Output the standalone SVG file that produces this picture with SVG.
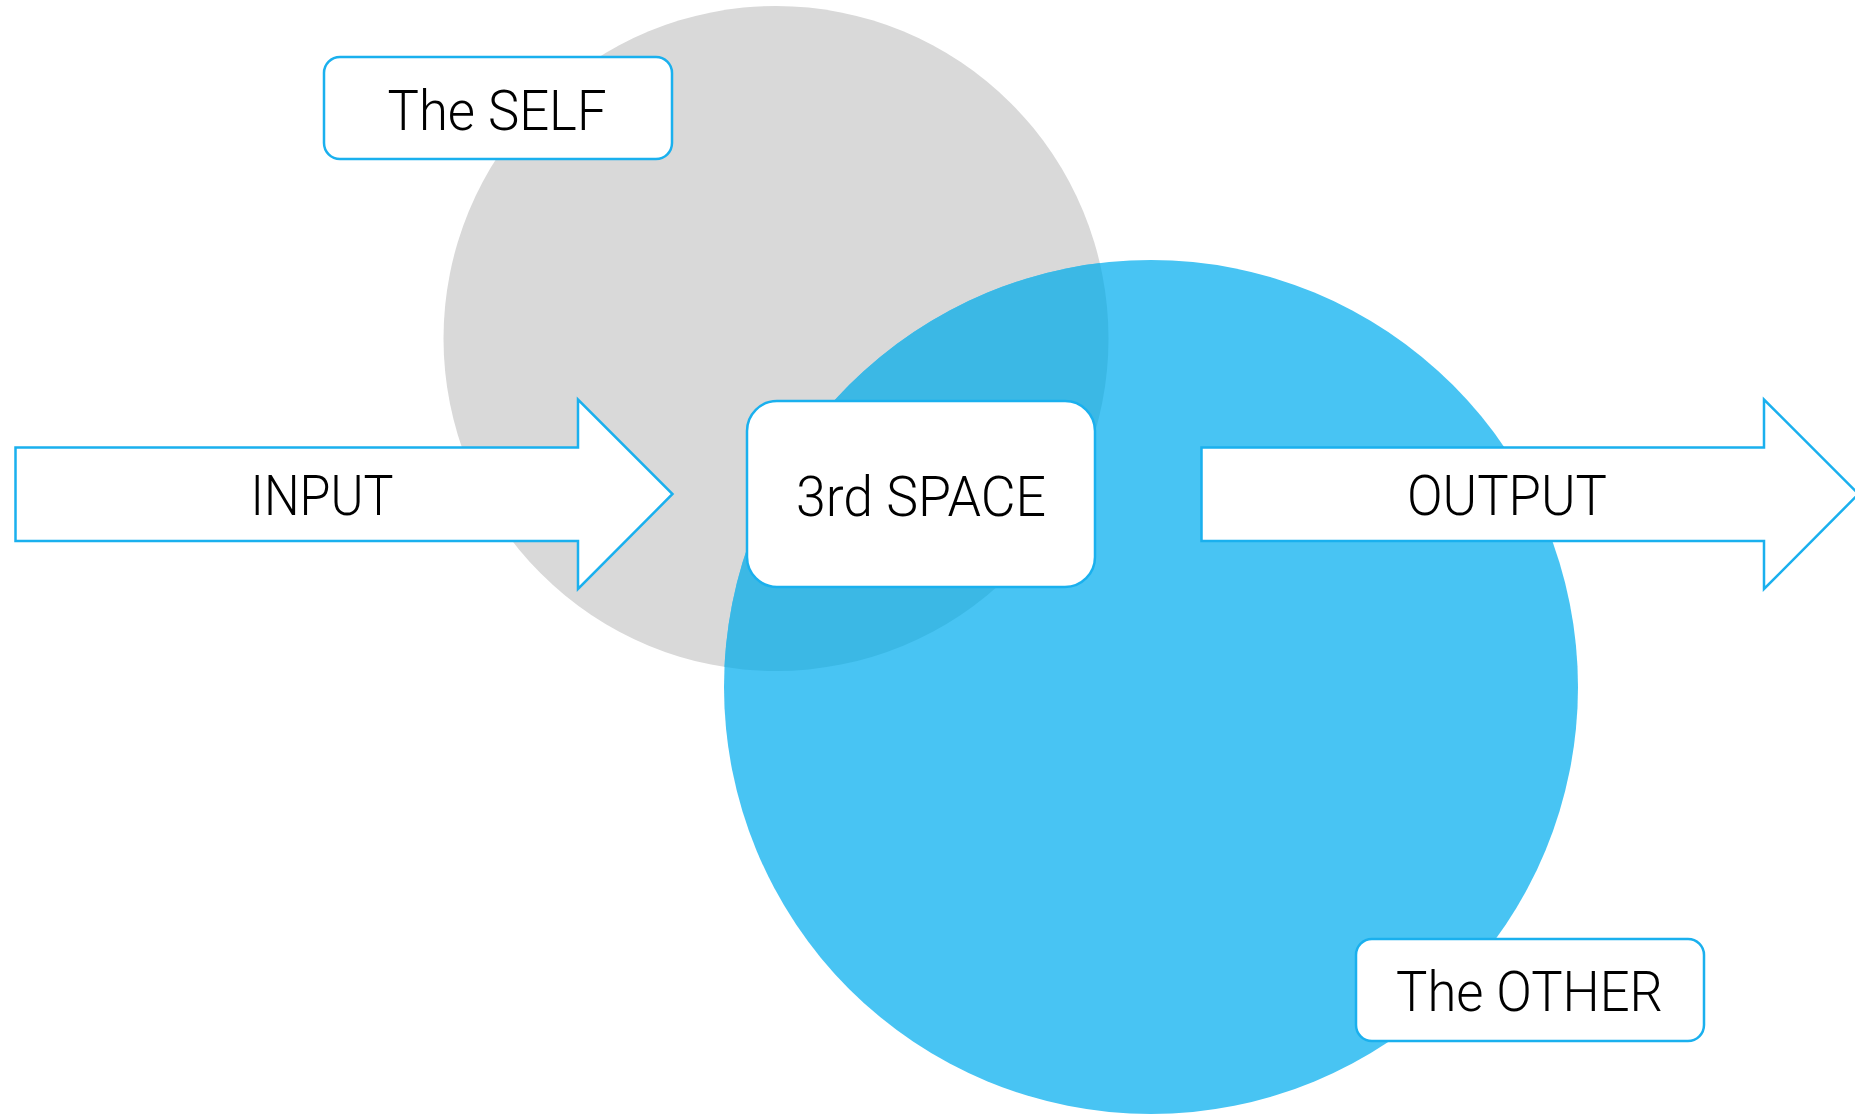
<svg xmlns="http://www.w3.org/2000/svg" width="1855" height="1115" viewBox="0 0 1855 1115">
  <style>
    .box { fill: #ffffff; stroke: #1AB0EE; stroke-width: 2.5; }
    .arrow { fill: #ffffff; stroke: #1AB0EE; stroke-width: 2.5; stroke-linejoin: miter; }
    .label { font-family: Roboto, "Liberation Sans", Arial, sans-serif; font-weight: 300; font-size: 56px; fill: #000000; text-anchor: middle; }
  </style>
  <defs>
    <clipPath id="selfClip">
      <circle cx="776" cy="338.5" r="332.5"/>
    </clipPath>
  </defs>
  <rect width="1855" height="1115" fill="#ffffff"/>
  <g id="circles">
    <circle id="self-circle" cx="776" cy="338.5" r="332.5" fill="#D9D9D9"/>
    <circle id="other-circle" cx="1151" cy="687" r="427" fill="#48C4F3"/>
    <circle id="overlap" cx="1151" cy="687" r="427" fill="#3BB8E5" clip-path="url(#selfClip)"/>
  </g>
  <g id="connectors">
    <g id="input-arrow">
      <path class="arrow" d="M15.5,447.5 H578 V399.5 L672.5,494 L578,589 V541 H15.5 Z"/>
      <text class="label" x="322" y="515" textLength="143" lengthAdjust="spacingAndGlyphs">INPUT</text>
    </g>
    <g id="output-arrow">
      <path class="arrow" d="M1201.5,447.5 H1764 V399.5 L1858.5,494 L1764,589 V541 H1201.5 Z"/>
      <text class="label" x="1507" y="515" textLength="200" lengthAdjust="spacingAndGlyphs">OUTPUT</text>
    </g>
  </g>
  <g id="node-self">
    <rect class="box" x="324" y="57" width="348" height="102" rx="16" ry="16"/>
    <text class="label" x="497" y="130" textLength="219" lengthAdjust="spacingAndGlyphs">The SELF</text>
  </g>
  <g id="node-3rd-space">
    <rect class="box" x="747" y="401" width="348" height="186" rx="30" ry="30"/>
    <text class="label" x="921" y="515.5" textLength="250" lengthAdjust="spacingAndGlyphs">3rd SPACE</text>
  </g>
  <g id="node-other">
    <rect class="box" x="1356" y="939" width="348" height="102" rx="16" ry="16"/>
    <text class="label" x="1529.5" y="1010.5" textLength="267" lengthAdjust="spacingAndGlyphs">The OTHER</text>
  </g>
</svg>
